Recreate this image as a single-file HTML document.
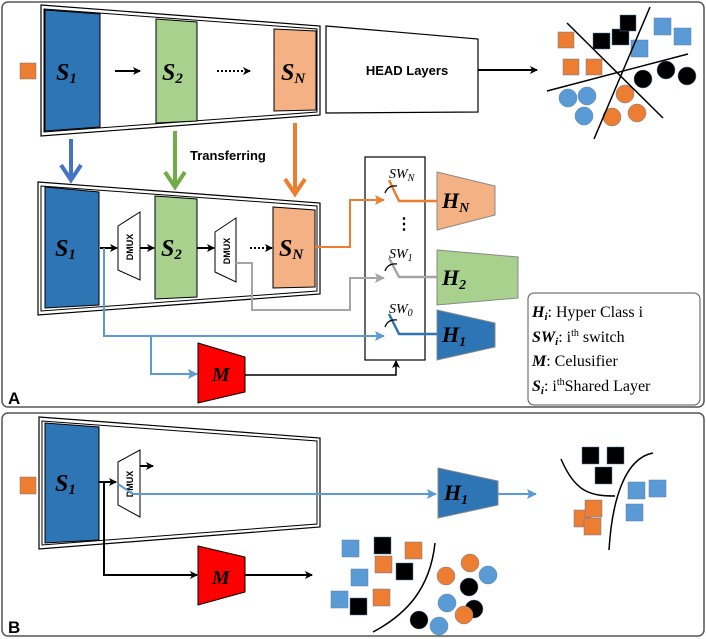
<!DOCTYPE html>
<html><head><meta charset="utf-8"><style>
html,body{margin:0;padding:0;background:#fff}
svg{display:block}
.s{font-family:"Liberation Serif",serif;font-style:italic;font-weight:bold}
.b{font-family:"Liberation Sans",sans-serif;font-weight:bold}
.t{font-family:"Liberation Serif",serif}
</style></head><body>
<svg width="706" height="639" viewBox="0 0 706 639" xmlns="http://www.w3.org/2000/svg">
<defs>
<marker id="ak" markerWidth="8" markerHeight="8" refX="7" refY="4" orient="auto" markerUnits="userSpaceOnUse"><path d="M0,0 L8,4 L0,8 L2,4z" fill="#000"/></marker>
<marker id="ab" markerWidth="10" markerHeight="10" refX="9" refY="5" orient="auto" markerUnits="userSpaceOnUse"><path d="M0,0 L10,5 L0,10 L2,5z" fill="#5b9bd5"/></marker>
<marker id="ag" markerWidth="10" markerHeight="10" refX="9" refY="5" orient="auto" markerUnits="userSpaceOnUse"><path d="M0,0 L10,5 L0,10 L2,5z" fill="#a6a6a6"/></marker>
<marker id="ao" markerWidth="10" markerHeight="10" refX="9" refY="5" orient="auto" markerUnits="userSpaceOnUse"><path d="M0,0 L10,5 L0,10 L2,5z" fill="#ed7d31"/></marker>
</defs>
<rect x="2" y="2" width="702" height="405" rx="6" fill="none" stroke="#555" stroke-width="1.5"/>
<rect x="2" y="413" width="702" height="223" rx="6" fill="none" stroke="#555" stroke-width="1.5"/>
<text x="8" y="404" class="b" font-size="17">A</text>
<text x="8" y="633" class="b" font-size="17">B</text>

<!-- TOP encoder -->
<rect x="20" y="63" width="16" height="16" fill="#ed7d31" stroke="#777" stroke-width=".5"/>
<polygon points="41,5 320,26 320,115 41,136" fill="#fff" stroke="#000" stroke-width="1.2"/>
<polygon points="44,9 317,29 317,112 44,132" fill="none" stroke="#000" stroke-width="1"/>
<polygon points="45,10 100,14 100,127 45,131" fill="#2e75b6" stroke="#000"/>
<polygon points="156,19 197,22 197,121 156,123" fill="#a9d18e" stroke="#000"/>
<polygon points="274,29 316,31 316,110 274,111" fill="#f4b183" stroke="#000"/>
<text x="56" y="80" class="s" font-size="24">S<tspan font-size="15" dy="3">1</tspan></text>
<text x="162" y="80" class="s" font-size="24">S<tspan font-size="15" dy="3">2</tspan></text>
<text x="281" y="80" class="s" font-size="24">S<tspan font-size="15" dy="3">N</tspan></text>
<line x1="115" y1="71" x2="140" y2="71" stroke="#000" stroke-width="2" marker-end="url(#ak)"/>
<line x1="217" y1="71" x2="250" y2="71" stroke="#000" stroke-width="2" stroke-dasharray="2,2" marker-end="url(#ak)"/>
<polygon points="326,26 478,39 478,112 326,113" fill="#fff" stroke="#000" stroke-width="1.2"/>
<text x="407" y="75" class="b" font-size="13" text-anchor="middle">HEAD Layers</text>
<line x1="478" y1="70" x2="537" y2="70" stroke="#000" stroke-width="2" marker-end="url(#ak)"/>
<!-- scatter top -->
<g stroke="#5a7fa8" stroke-width=".5">
<rect x="558" y="32" width="16" height="16" fill="#ed7d31"/>
<rect x="563" y="59" width="16" height="16" fill="#ed7d31"/>
<rect x="586" y="59" width="16" height="16" fill="#ed7d31"/>
<rect x="593" y="33" width="17" height="16" fill="#000"/>
<rect x="612" y="29" width="17" height="16" fill="#000"/>
<rect x="620" y="15" width="16" height="16" fill="#000"/>
<rect x="631" y="40" width="17" height="17" fill="#5b9bd5"/>
<rect x="654" y="18" width="17" height="17" fill="#5b9bd5"/>
<rect x="674" y="28" width="17" height="17" fill="#5b9bd5"/>
<circle cx="568" cy="98" r="9" fill="#5b9bd5"/><circle cx="587" cy="96" r="9" fill="#5b9bd5"/><circle cx="584" cy="116" r="9" fill="#5b9bd5"/>
<circle cx="625" cy="94" r="9" fill="#ed7d31"/><circle cx="612" cy="117" r="9" fill="#ed7d31"/><circle cx="637" cy="113" r="9" fill="#ed7d31"/>
<circle cx="643" cy="79" r="9" fill="#000"/><circle cx="666" cy="70" r="9" fill="#000"/><circle cx="687" cy="76" r="9" fill="#000"/>
</g>
<line x1="567" y1="23" x2="663" y2="118" stroke="#000" stroke-width="1.5"/>
<line x1="650" y1="7" x2="594" y2="139" stroke="#000" stroke-width="1.5"/>
<line x1="547" y1="91" x2="688" y2="54" stroke="#000" stroke-width="1.5"/>

<!-- transfer arrows -->
<line x1="71" y1="139" x2="71" y2="176" stroke="#4472c4" stroke-width="4"/><path d="M61,165 L71,180 L81,165" fill="none" stroke="#4472c4" stroke-width="4"/>
<line x1="175" y1="131" x2="175" y2="183" stroke="#70ad47" stroke-width="4"/><path d="M165,172 L175,187 L185,172" fill="none" stroke="#70ad47" stroke-width="4"/>
<line x1="295" y1="123" x2="295" y2="190" stroke="#ed7d31" stroke-width="4"/><path d="M285,179 L295,194 L305,179" fill="none" stroke="#ed7d31" stroke-width="4"/>
<text x="190" y="160" class="b" font-size="13">Transferring</text>

<!-- second encoder -->
<polygon points="38,182 320,203 320,294 38,315" fill="#fff" stroke="#000" stroke-width="1.2"/>
<polygon points="41,186 317,206 317,291 41,311" fill="none" stroke="#000" stroke-width="1"/>
<polygon points="45,187 99,192 99,305 45,308" fill="#2e75b6" stroke="#000"/>
<polygon points="155,196 197,199 197,297 155,299" fill="#a9d18e" stroke="#000"/>
<polygon points="273,207 315,210 315,287 273,288" fill="#f4b183" stroke="#000"/>
<text x="55" y="256" class="s" font-size="24">S<tspan font-size="15" dy="3">1</tspan></text>
<text x="161" y="256" class="s" font-size="24">S<tspan font-size="15" dy="3">2</tspan></text>
<text x="279" y="256" class="s" font-size="24">S<tspan font-size="15" dy="3">N</tspan></text>
<polygon points="118,226 140,212 140,280 118,270" fill="#fff" stroke="#000"/>
<text transform="translate(133,247) rotate(-90)" class="b" font-size="9" text-anchor="middle">DMUX</text>
<polygon points="215,232 236,218 236,282 215,272" fill="#fff" stroke="#000"/>
<text transform="translate(230,251) rotate(-90)" class="b" font-size="9" text-anchor="middle">DMUX</text>
<line x1="100" y1="248" x2="117" y2="248" stroke="#000" stroke-width="2" marker-end="url(#ak)"/>
<line x1="140" y1="248" x2="154" y2="248" stroke="#000" stroke-width="2" marker-end="url(#ak)"/>
<line x1="197" y1="248" x2="214" y2="248" stroke="#000" stroke-width="2" marker-end="url(#ak)"/>
<line x1="250" y1="248" x2="272" y2="248" stroke="#000" stroke-width="2" stroke-dasharray="2,2" marker-end="url(#ak)"/>

<!-- switch box -->
<rect x="365" y="157" width="60" height="203" fill="#fff" stroke="#000" stroke-width="1.2"/>
<polygon points="437,172 495,186 495,215 437,230" fill="#f4b183" stroke="#888"/>
<polygon points="437,250 518,257 518,298 437,305" fill="#a9d18e" stroke="#888"/>
<polygon points="437,310 495,323 495,347 437,360" fill="#2e75b6" stroke="#888"/>
<text x="442" y="208" class="s" font-size="22">H<tspan font-size="14" dy="4">N</tspan></text>
<text x="442" y="285" class="s" font-size="22">H<tspan font-size="14" dy="4">2</tspan></text>
<text x="442" y="342" class="s" font-size="22">H<tspan font-size="14" dy="4">1</tspan></text>
<text x="389" y="178" class="t" font-style="italic" font-size="14">SW<tspan font-size="10" dy="3">N</tspan></text>
<text x="389" y="258" class="t" font-style="italic" font-size="14">SW<tspan font-size="10" dy="3">1</tspan></text>
<text x="389" y="313" class="t" font-style="italic" font-size="14">SW<tspan font-size="10" dy="3">0</tspan></text>
<text x="396" y="229" font-family="Liberation Sans" font-weight="bold" font-size="16">⋮</text>
<!-- switches -->
<polyline points="437,201 399,201 389,180" fill="none" stroke="#ed7d31" stroke-width="2.5"/>
<polyline points="437,277 399,277 389,258" fill="none" stroke="#a6a6a6" stroke-width="2.5"/>
<polyline points="437,334 399,334 389,314" fill="none" stroke="#2e75b6" stroke-width="2.5"/>
<g fill="none" stroke="#000" stroke-width="1.3">
<path d="M397,186 Q388,185 385,193"/><path d="M397,264 Q388,263 385,271"/><path d="M397,320 Q388,319 385,327"/>
</g>
<!-- connectors -->
<polyline points="315,247 350,247 350,200 384,200" fill="none" stroke="#ed7d31" stroke-width="2" marker-end="url(#ao)"/>
<polyline points="236,263 252,263 252,310 350,310 350,278 384,278" fill="none" stroke="#a6a6a6" stroke-width="2" marker-end="url(#ag)"/>
<polyline points="104,248 104,336 384,336" fill="none" stroke="#5b9bd5" stroke-width="2" marker-end="url(#ab)"/>
<polyline points="151,336 151,374 197,374" fill="none" stroke="#5b9bd5" stroke-width="2" marker-end="url(#ab)"/>
<polygon points="198,343 245,357 245,392 198,403" fill="#ff0000" stroke="#000"/>
<text x="212" y="381" class="s" font-size="20">M</text>
<polyline points="245,375 396,375 396,361" fill="none" stroke="#000" stroke-width="1.5" marker-end="url(#ak)"/>

<!-- legend -->
<rect x="528" y="293" width="172" height="112" rx="6" fill="#fff" stroke="#555"/>
<g class="t" font-size="16">
<text x="532" y="317"><tspan class="s">H<tspan font-size="11" dy="3">i</tspan></tspan><tspan dy="-3">:  Hyper Class i</tspan></text>
<text x="532" y="342"><tspan class="s">SW<tspan font-size="11" dy="3">i</tspan></tspan><tspan dy="-3">: i</tspan><tspan font-size="10" dy="-6">th</tspan><tspan dy="6"> switch</tspan></text>
<text x="532" y="366"><tspan class="s">M</tspan>: Celusifier</text>
<text x="532" y="391"><tspan class="s">S<tspan font-size="11" dy="3">i</tspan></tspan><tspan dy="-3">: i</tspan><tspan font-size="10" dy="-6">th</tspan><tspan dy="6">Shared Layer</tspan></text>
</g>

<!-- PANEL B -->
<rect x="20" y="477" width="16" height="17" fill="#ed7d31" stroke="#777" stroke-width=".5"/>
<polygon points="39,417 320,438 320,527 39,549" fill="#fff" stroke="#000" stroke-width="1.2"/>
<polygon points="42,421 317,441 317,524 42,545" fill="none" stroke="#000" stroke-width="1"/>
<polygon points="45,423 99,427 99,540 45,543" fill="#2e75b6" stroke="#000"/>
<text x="55" y="491" class="s" font-size="24">S<tspan font-size="15" dy="3">1</tspan></text>
<polygon points="118,462 140,450 140,517 118,505" fill="#fff" stroke="#000"/>
<text transform="translate(133,484) rotate(-90)" class="b" font-size="9" text-anchor="middle">DMUX</text>
<line x1="99" y1="482" x2="116" y2="482" stroke="#000" stroke-width="2" marker-end="url(#ak)"/>
<line x1="140" y1="466" x2="153" y2="466" stroke="#000" stroke-width="2" marker-end="url(#ak)"/>
<polyline points="118,484 133,494 436,494" fill="none" stroke="#5b9bd5" stroke-width="2" marker-end="url(#ab)"/>
<polyline points="104,482 104,575 197,575" fill="none" stroke="#000" stroke-width="2" marker-end="url(#ak)"/>
<polygon points="438,468 498,481 498,505 438,518" fill="#2e75b6" stroke="#888"/>
<text x="444" y="500" class="s" font-size="22">H<tspan font-size="14" dy="4">1</tspan></text>
<line x1="498" y1="494" x2="536" y2="494" stroke="#5b9bd5" stroke-width="2" marker-end="url(#ab)"/>
<polygon points="198,546 245,557 245,592 198,605" fill="#ff0000" stroke="#000"/>
<text x="212" y="584" class="s" font-size="20">M</text>
<line x1="245" y1="575" x2="312" y2="575" stroke="#000" stroke-width="2" marker-end="url(#ak)"/>

<g stroke="#5a7fa8" stroke-width=".5">
<rect x="582" y="447" width="17" height="17" fill="#000"/>
<rect x="607" y="447" width="17" height="17" fill="#000"/>
<rect x="595" y="467" width="17" height="17" fill="#000"/>
<rect x="628" y="482" width="17" height="17" fill="#5b9bd5"/>
<rect x="649" y="480" width="17" height="17" fill="#5b9bd5"/>
<rect x="626" y="504" width="17" height="17" fill="#5b9bd5"/>
<rect x="574" y="510" width="17" height="17" fill="#ed7d31"/>
<rect x="585" y="500" width="17" height="17" fill="#ed7d31"/>
<rect x="584" y="518" width="17" height="17" fill="#ed7d31"/>

<rect x="342" y="540" width="17" height="17" fill="#5b9bd5"/>
<rect x="351" y="569" width="17" height="17" fill="#5b9bd5"/>
<rect x="331" y="591" width="17" height="17" fill="#5b9bd5"/>
<rect x="374" y="537" width="17" height="17" fill="#000"/>
<rect x="396" y="563" width="17" height="17" fill="#000"/>
<rect x="350" y="598" width="17" height="17" fill="#000"/>
<rect x="405" y="542" width="17" height="17" fill="#ed7d31"/>
<rect x="375" y="556" width="17" height="17" fill="#ed7d31"/>
<rect x="373" y="589" width="17" height="17" fill="#ed7d31"/>
<circle cx="470" cy="563" r="9" fill="#ed7d31"/><circle cx="446" cy="576" r="9" fill="#ed7d31"/>
<circle cx="488" cy="575" r="9" fill="#5b9bd5"/>
<circle cx="469" cy="587" r="9" fill="#000"/>
<circle cx="474" cy="609" r="9" fill="#000"/>
<circle cx="447" cy="603" r="9" fill="#5b9bd5"/>
<circle cx="464" cy="615" r="9" fill="#ed7d31"/>
<circle cx="419" cy="620" r="9" fill="#000"/>
<circle cx="439" cy="626" r="9" fill="#5b9bd5"/>
</g>
<path d="M561,459 C575,492 590,496 615,496" fill="none" stroke="#000" stroke-width="1.5"/>
<path d="M653,453 C625,458 612,500 609,550" fill="none" stroke="#000" stroke-width="1.5"/>
<path d="M435,543 C430,590 405,615 373,632" fill="none" stroke="#000" stroke-width="1.5"/>
</svg>
</body></html>
